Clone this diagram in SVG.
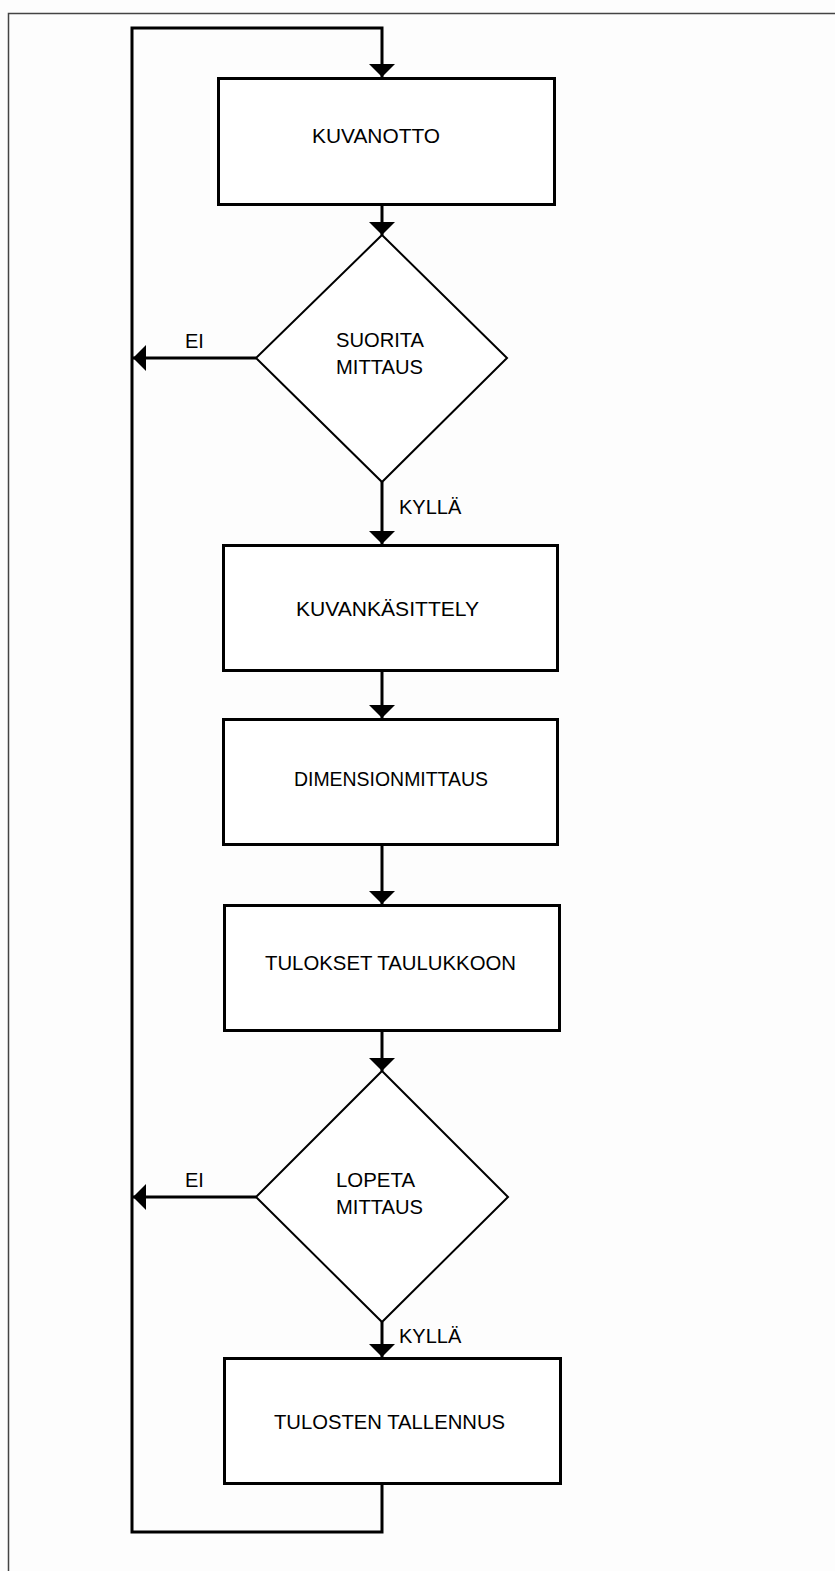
<svg xmlns="http://www.w3.org/2000/svg" width="835" height="1571" viewBox="0 0 835 1571">
<style>
.box{fill:#fff;stroke:#000;stroke-width:3}
.dia{fill:#fff;stroke:#000;stroke-width:2}
.con{fill:none;stroke:#000;stroke-width:3;stroke-linejoin:miter}
.t{font-family:"Liberation Sans",Arial,sans-serif;font-size:20px;fill:#000}
</style>
<defs>
<marker id="ah" markerUnits="userSpaceOnUse" viewBox="0 0 13 26" refX="13" refY="13" markerWidth="13" markerHeight="26" orient="auto">
<path d="M0,0 L13,13 L0,26 z" fill="#000"/>
</marker>
</defs>
<rect width="835" height="1571" fill="#fdfdfd"/>
<path d="M8.5,1571 V13.5 H835" fill="none" stroke="#444" stroke-width="1.5"/>
<g id="connectors">
<path class="con" d="M382,1485 V1532 H132 V28 H382 V77" marker-end="url(#ah)"/>
<path class="con" d="M382,206 V235" marker-end="url(#ah)"/>
<path class="con" d="M382,482 V544" marker-end="url(#ah)"/>
<path class="con" d="M382,672 V718" marker-end="url(#ah)"/>
<path class="con" d="M382,846 V904" marker-end="url(#ah)"/>
<path class="con" d="M382,1032 V1071" marker-end="url(#ah)"/>
<path class="con" d="M382,1322 V1357" marker-end="url(#ah)"/>
<path class="con" d="M256,358 H133" marker-end="url(#ah)"/>
<path class="con" d="M256,1197 H133" marker-end="url(#ah)"/>
<text class="t" x="185" y="348">EI</text>
<text class="t" x="185" y="1187">EI</text>
<text class="t" x="399" y="514">KYLLÄ</text>
<text class="t" x="399" y="1343">KYLLÄ</text>
</g>
<g id="kuvanotto">
<rect class="box" x="218.5" y="78.5" width="336" height="126"/>
<text class="t" x="312" y="143" textLength="128" lengthAdjust="spacingAndGlyphs">KUVANOTTO</text>
</g>
<g id="suorita">
<polygon class="dia" points="382,235 507,358 382,482 256,358"/>
<text class="t" x="336" y="347" textLength="88" lengthAdjust="spacingAndGlyphs">SUORITA</text>
<text class="t" x="336" y="374" textLength="87" lengthAdjust="spacingAndGlyphs">MITTAUS</text>
</g>
<g id="kuvankasittely">
<rect class="box" x="223.5" y="545.5" width="334" height="125"/>
<text class="t" x="296" y="616" textLength="183" lengthAdjust="spacingAndGlyphs">KUVANKÄSITTELY</text>
</g>
<g id="dimensionmittaus">
<rect class="box" x="223.5" y="719.5" width="334" height="125"/>
<text class="t" x="294" y="786" textLength="194" lengthAdjust="spacingAndGlyphs">DIMENSIONMITTAUS</text>
</g>
<g id="tulokset">
<rect class="box" x="224.5" y="905.5" width="335" height="125"/>
<text class="t" x="265" y="970" textLength="251" lengthAdjust="spacingAndGlyphs">TULOKSET TAULUKKOON</text>
</g>
<g id="lopeta">
<polygon class="dia" points="382,1071 508,1197 382,1322 256,1197"/>
<text class="t" x="336" y="1187" textLength="79" lengthAdjust="spacingAndGlyphs">LOPETA</text>
<text class="t" x="336" y="1214" textLength="87" lengthAdjust="spacingAndGlyphs">MITTAUS</text>
</g>
<g id="tallennus">
<rect class="box" x="224.5" y="1358.5" width="336" height="125"/>
<text class="t" x="274" y="1429" textLength="231" lengthAdjust="spacingAndGlyphs">TULOSTEN TALLENNUS</text>
</g>
</svg>
